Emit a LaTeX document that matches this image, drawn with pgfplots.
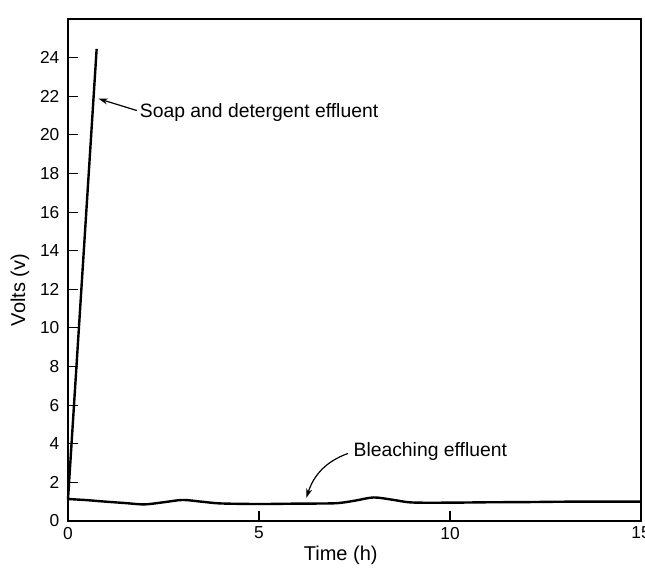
\documentclass[border=0pt]{standalone}
\usepackage{pgfplots}
\pgfplotsset{compat=1.18}
\usepackage{fontspec}
\setmainfont{Liberation Sans}
\usetikzlibrary{arrows.meta}
\begin{document}
\begin{tikzpicture}
\begin{axis}[
  scale only axis,
  width=429.75pt, height=376.5pt,
  xmin=0, xmax=15, ymin=0, ymax=26,
  xtick={0,5,10,15}, ytick={0,2,...,24},
  tick align=inside, tick pos=left,
  major tick length=7.5pt,
  axis line style={line width=1pt},
  every tick/.style={black, line width=0.8pt},
  /pgf/number format/assume math mode=true,
  tick label style={font=\fontsize{13}{15}\selectfont},
  yticklabel style={xshift=-3pt},
  xticklabel style={yshift=-1pt},
  xlabel={Time (h)}, ylabel={Volts (v)},
  label style={font=\fontsize{15}{17}\selectfont},
  xlabel style={at={(axis description cs:0.476,-0.068)}, anchor=center},
  ylabel style={at={(axis description cs:-0.084,0.46)}, anchor=center, rotate=0},
  clip=false,
]
\addplot[black, line width=1.8pt] coordinates {(0,1.12) (0.75,24.45)};
\addplot[black, line width=1.8pt, smooth, tension=0.5] coordinates {
 (0,1.14) (0.5,1.08) (1,1.0) (1.5,0.93) (2,0.86) (2.5,0.97) (3,1.09) (3.5,1.0)
 (4,0.91) (5,0.88) (6,0.9) (7,0.92) (7.5,1.05) (8,1.22) (8.5,1.1) (9,0.96)
 (10,0.95) (11,0.97) (12,0.98) (13,1.0) (14,1.0) (15,1.0)};
\node[anchor=base west, inner sep=0pt, font=\fontsize{14.5}{16}\selectfont] at (axis cs:1.875,20.9) {Soap and detergent effluent};
\draw[-{Stealth[length=7pt,width=4.5pt]}, line width=0.9pt] (axis cs:1.8,21.26) -- (axis cs:0.8,21.87);
\node[anchor=base west, inner sep=0pt, font=\fontsize{14.5}{16}\selectfont] at (axis cs:7.47,3.33) {Bleaching effluent};
\draw[-{Stealth[length=7pt,width=4.5pt]}, line width=0.9pt] (axis cs:7.33,3.5) to[out=200,in=72] (axis cs:6.24,1.2);
\coordinate (sw) at (rel axis cs:0,0);
\coordinate (ne) at (rel axis cs:1,1);
\end{axis}
\pgfresetboundingbox
\path[use as bounding box] ([xshift=-51pt,yshift=-38.25pt]sw) rectangle ([xshift=3pt,yshift=14.25pt]ne);
\end{tikzpicture}
\end{document}
